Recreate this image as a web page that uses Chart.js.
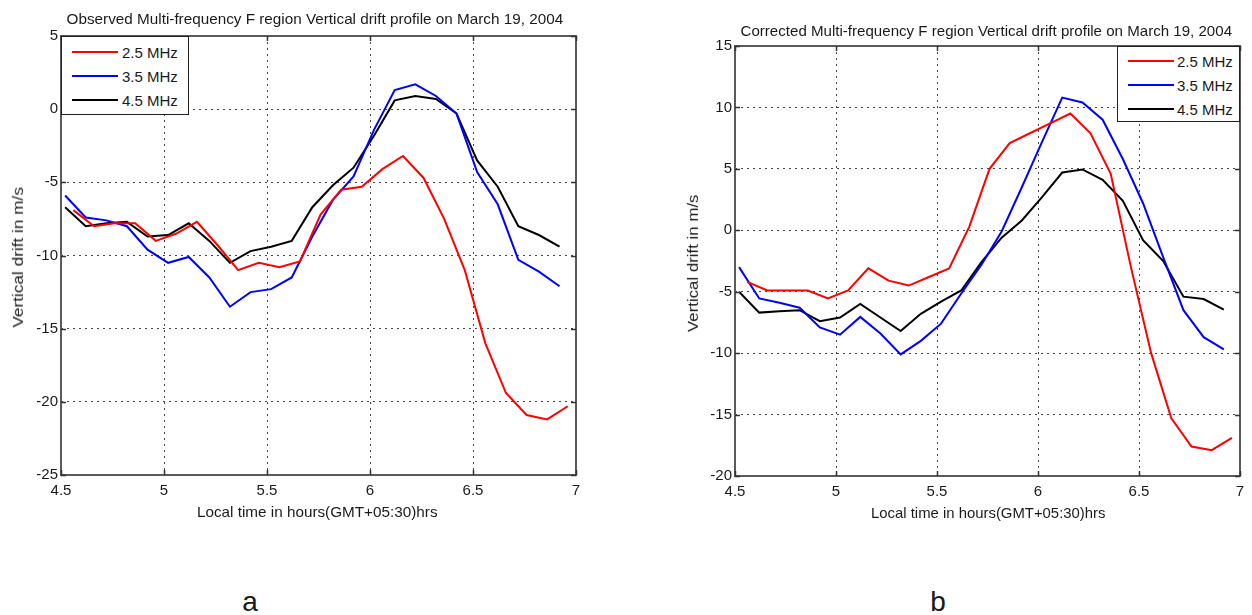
<!DOCTYPE html>
<html>
<head>
<meta charset="utf-8">
<title>Multi-frequency F region vertical drift, March 19, 2004</title>
<script src="https://cdn.jsdelivr.net/npm/chart.js@4.4.1/dist/chart.umd.min.js"></script>
<style>
  html, body { margin: 0; padding: 0; background: #fff; }
  body { position: relative; width: 1252px; height: 615px; overflow: hidden;
         font-family: "Liberation Sans", Arial, sans-serif; color: #1a1a1a; }
  canvas { position: absolute; top: 0; }
  .txt { position: absolute; white-space: nowrap; line-height: 1.15; transform-origin: 50% 50%; }
  .legend { position: absolute; box-sizing: border-box; border: 1px solid #222; background: #fff; }
  .legend .swatch { position: absolute; height: 2px; }
  .legend .lbl { position: absolute; font-size: 15px; line-height: 1; white-space: nowrap; transform: translateY(-50%); }
  .panel-tag { position: absolute; font-size: 28px; line-height: 1; transform: translateX(-50%); }
</style>
</head>
<body>
<canvas id="chartObserved" width="600" height="530" style="left:0"></canvas>
<canvas id="chartCorrected" width="612" height="530" style="left:640px"></canvas>
<script>
// sounding frequencies and their line colours
const freqLabels = ['2.5 MHz', '3.5 MHz', '4.5 MHz'];
const lineColors = ['#ff0000', '#0000ff', '#000000'];

// local time (hours) of each profile point; the 2.5 MHz trace is sampled a little later
const hoursRed = [4.56, 4.66, 4.76, 4.86, 4.96, 5.06, 5.16, 5.26, 5.36, 5.46, 5.56, 5.66, 5.76,
                  5.86, 5.96, 6.06, 6.16, 6.26, 6.36, 6.46, 6.56, 6.66, 6.76, 6.86, 6.96];
const hoursMain = [4.52, 4.62, 4.72, 4.82, 4.92, 5.02, 5.12, 5.22, 5.32, 5.42, 5.52, 5.62, 5.72,
                   5.82, 5.92, 6.02, 6.12, 6.22, 6.32, 6.42, 6.52, 6.62, 6.72, 6.82, 6.92];

// (a) observed drift, m/s
const obsRed = [-6.9, -8.0, -7.8, -7.8, -9.0, -8.5, -7.7, -9.3, -11.0, -10.5, -10.8, -10.4, -7.2,
                -5.5, -5.3, -4.1, -3.2, -4.7, -7.5, -11.0, -16.0, -19.4, -20.9, -21.2, -20.3];
const obsBlue = [-5.9, -7.4, -7.6, -8.0, -9.6, -10.5, -10.1, -11.5, -13.5, -12.5, -12.3, -11.5, -8.7,
                 -6.2, -4.6, -1.4, 1.3, 1.7, 0.9, -0.3, -4.3, -6.5, -10.3, -11.1, -12.1];
const obsBlack = [-6.7, -8.0, -7.8, -7.7, -8.7, -8.6, -7.8, -9.0, -10.5, -9.7, -9.4, -9.0, -6.7,
                  -5.2, -4.0, -1.8, 0.6, 0.9, 0.7, -0.3, -3.5, -5.3, -8.0, -8.6, -9.4];

// (b) corrected drift, m/s
const corRed = [-4.2, -4.9, -4.9, -4.9, -5.55, -4.9, -3.1, -4.1, -4.5, -3.8, -3.1, 0.3, 5.0,
                7.1, 7.9, 8.7, 9.5, 7.9, 4.6, -3.0, -10.0, -15.3, -17.6, -17.9, -16.9];
const corBlue = [-3.0, -5.55, -5.9, -6.3, -7.9, -8.5, -7.05, -8.4, -10.1, -9.0, -7.6, -5.15, -2.8,
                 -0.1, 3.5, 7.2, 10.8, 10.4, 9.0, 5.8, 2.2, -2.2, -6.5, -8.7, -9.7];
const corBlack = [-5.0, -6.7, -6.6, -6.5, -7.4, -7.1, -6.0, -7.1, -8.2, -6.8, -5.8, -4.9, -2.6,
                  -0.6, 0.8, 2.7, 4.7, 4.95, 4.1, 2.4, -0.8, -2.5, -5.4, -5.6, -6.45];

// axis ticks
const xTickValues = [4.5, 5, 5.5, 6, 6.5, 7];
const xTickLabels = ['4.5', '5', '5.5', '6', '6.5', '7'];
const obsYTickValues = [-25, -20, -15, -10, -5, 0, 5];
const obsYTickLabels = ['-25', '-20', '-15', '-10', '-5', '0', '5'];
const corYTickValues = [-20, -15, -10, -5, 0, 5, 10, 15];
const corYTickLabels = ['-20', '-15', '-10', '-5', '0', '5', '10', '15'];

const titleObserved = 'Observed Multi-frequency F region Vertical drift profile on March 19, 2004';
const titleCorrected = 'Corrected Multi-frequency F region Vertical drift profile on March 19, 2004';
const xAxisTitle = 'Local time in hours(GMT+05:30)hrs';
const yAxisTitle = 'Vertical drift in m/s';

// box round the plot area with MATLAB-style inward tick marks
const frameBox = {
  id: 'frameBox',
  afterDraw(chart) {
    const { ctx, chartArea: a, scales } = chart;
    const L = Math.round(a.left), R = Math.round(a.right), T = Math.round(a.top), B = Math.round(a.bottom);
    ctx.save();
    ctx.setLineDash([]);
    ctx.strokeStyle = '#5a5a5a';
    ctx.lineWidth = 2;
    ctx.strokeRect(L, T, R - L, B - T);
    ctx.lineWidth = 1.5;
    ctx.strokeStyle = '#333';
    ctx.beginPath();
    scales.x.ticks.forEach(t => {
      const px = Math.round(scales.x.getPixelForValue(t.value)) + 0.5;
      ctx.moveTo(px, B); ctx.lineTo(px, B - 5);
      ctx.moveTo(px, T); ctx.lineTo(px, T + 5);
    });
    scales.y.ticks.forEach(t => {
      const py = Math.round(scales.y.getPixelForValue(t.value)) + 0.5;
      ctx.moveTo(L, py); ctx.lineTo(L + 5, py);
      ctx.moveTo(R, py); ctx.lineTo(R - 5, py);
    });
    ctx.stroke();
    ctx.restore();
  }
};

function makeChart(canvasId, cfg) {
  const datasets = freqLabels.map((label, i) => ({
    label,
    data: cfg.hours[i].map((h, k) => ({ x: h, y: cfg.values[i][k] })),
    borderColor: lineColors[i],
    backgroundColor: lineColors[i],
    borderWidth: 2,
    pointRadius: 0,
    tension: 0,
    fill: false
  }));
  const tickFont = { family: '"Liberation Sans", Arial, sans-serif', size: 15 };
  const gridOpts = { color: '#444', lineWidth: 1, drawTicks: false };
  const borderOpts = { display: false, dash: [2, 4] };
  return new Chart(document.getElementById(canvasId), {
    type: 'line',
    data: { datasets },
    options: {
      responsive: false,
      animation: false,
      layout: { padding: cfg.padding },
      plugins: { legend: { display: false }, tooltip: { enabled: false } },
      scales: {
        x: {
          type: 'linear',
          min: xTickValues[0],
          max: xTickValues[xTickValues.length - 1],
          afterBuildTicks: s => { s.ticks = xTickValues.map(v => ({ value: v })); },
          afterFit: s => { s.height = cfg.xAxisHeight; },
          grid: gridOpts,
          border: borderOpts,
          ticks: { font: tickFont, color: '#1a1a1a', padding: 7, maxRotation: 0,
                   callback: (v, i) => xTickLabels[i] }
        },
        y: {
          type: 'linear',
          min: cfg.yTicks[0],
          max: cfg.yTicks[cfg.yTicks.length - 1],
          afterBuildTicks: s => { s.ticks = cfg.yTicks.map(v => ({ value: v })); },
          afterFit: s => { s.width = cfg.yAxisWidth; },
          grid: gridOpts,
          border: borderOpts,
          ticks: { font: tickFont, color: '#1a1a1a', padding: 3,
                   callback: (v, i) => cfg.yLabels[i] }
        }
      }
    },
    plugins: [frameBox]
  });
}

function placeText(str, cx, cy, size, fitW, rotated) {
  const el = document.createElement('div');
  el.className = 'txt';
  el.textContent = str;
  el.style.fontSize = size + 'px';
  document.body.appendChild(el);
  const s = fitW ? fitW / el.offsetWidth : 1;
  el.style.left = (cx - el.offsetWidth / 2) + 'px';
  el.style.top = (cy - el.offsetHeight / 2) + 'px';
  el.style.transform = (rotated ? 'rotate(-90deg) ' : '') + 'scaleX(' + s.toFixed(3) + ')';
}

function placeLegend(chart, canvasLeft, corner, box) {
  const a = chart.chartArea;
  const el = document.createElement('div');
  el.className = 'legend';
  el.style.width = box.w + 'px';
  el.style.height = box.h + 'px';
  el.style.left = (corner === 'left' ? canvasLeft + a.left : canvasLeft + a.right - box.w) + 'px';
  el.style.top = a.top + 'px';
  freqLabels.forEach((label, i) => {
    const y = box.rowTop + i * box.rowStep;
    const sw = document.createElement('div');
    sw.className = 'swatch';
    sw.style.left = box.lineX + 'px';
    sw.style.width = box.lineW + 'px';
    sw.style.top = (y - 1) + 'px';
    sw.style.background = lineColors[i];
    const tx = document.createElement('div');
    tx.className = 'lbl';
    tx.textContent = label;
    tx.style.left = box.textX + 'px';
    tx.style.top = y + 'px';
    el.append(sw, tx);
  });
  document.body.appendChild(el);
}

const observed = makeChart('chartObserved', {
  hours: [hoursRed, hoursMain, hoursMain],
  values: [obsRed, obsBlue, obsBlack],
  yTicks: obsYTickValues,
  yLabels: obsYTickLabels,
  padding: { left: 0, top: 36, right: 24, bottom: 0 },
  yAxisWidth: 61,
  xAxisHeight: 55
});

const corrected = makeChart('chartCorrected', {
  hours: [hoursRed, hoursMain, hoursMain],
  values: [corRed, corBlue, corBlack],
  yTicks: corYTickValues,
  yLabels: corYTickLabels,
  padding: { left: 0, top: 46, right: 12, bottom: 0 },
  yAxisWidth: 95,
  xAxisHeight: 54
});

placeLegend(observed, 0, 'left', { w: 128, h: 79, rowTop: 15, rowStep: 24, lineX: 10, lineW: 46, textX: 60 });
placeLegend(corrected, 640, 'right', { w: 123, h: 76, rowTop: 14, rowStep: 24, lineX: 10, lineW: 46, textX: 59 });

placeText(titleObserved, 315, 18, 15, 497, false);
placeText(titleCorrected, 986, 30, 15, 492, false);
placeText(xAxisTitle, 317, 512, 14.5, 240, false);
placeText(xAxisTitle, 988, 513, 14.5, 234, false);
placeText(yAxisTitle, 18, 257, 14.5, 140, true);
placeText(yAxisTitle, 693, 263, 14.5, 137, true);

['a', 'b'].forEach((tag, i) => {
  const el = document.createElement('div');
  el.className = 'panel-tag';
  el.textContent = tag;
  el.style.left = [250, 938][i] + 'px';
  el.style.top = '588px';
  document.body.appendChild(el);
});
</script>
</body>
</html>
